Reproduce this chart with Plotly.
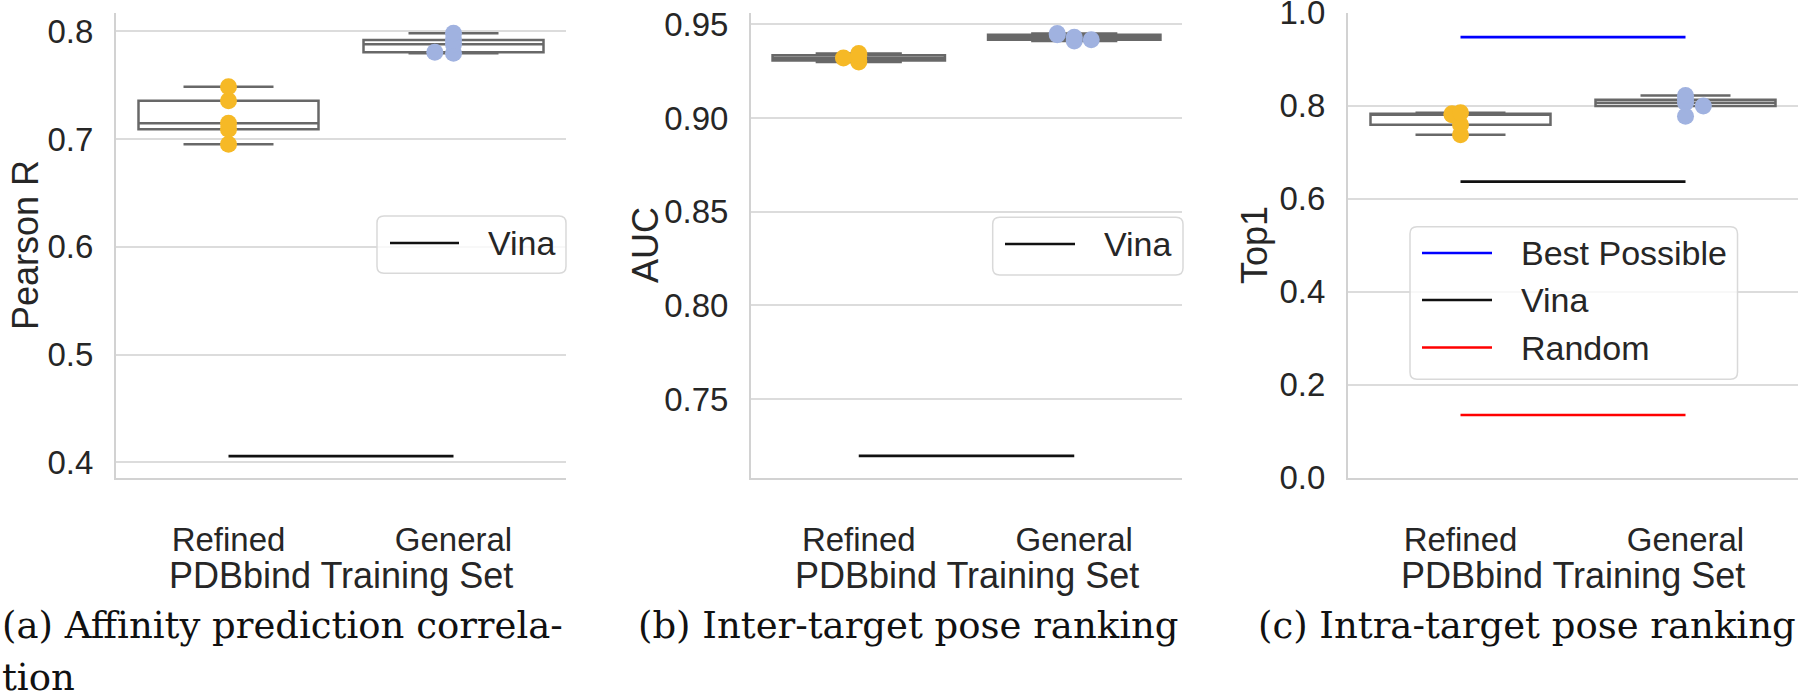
import numpy as np
import plotly.graph_objects as go

W, H = 1800, 693

CATEGORIES = ["Refined", "General"]

# (a) Affinity prediction correlation (Pearson R)
PEARSON_REFINED = [0.6953, 0.7092, 0.7148, 0.7357, 0.7487]
PEARSON_GENERAL = [0.7798, 0.7807, 0.7881, 0.7921, 0.7983]
PEARSON_VINA = 0.4058

# (b) Inter-target pose ranking (AUC)
AUC_REFINED = [0.9299, 0.9307, 0.9320, 0.9335, 0.9344]
AUC_GENERAL = [0.9411, 0.9418, 0.9431, 0.9444, 0.9451]
AUC_VINA = 0.7196

# (c) Intra-target pose ranking (Top1)
TOP1_REFINED = [0.7372, 0.7585, 0.7800, 0.7822, 0.7843]
TOP1_GENERAL = [0.7770, 0.7989, 0.8060, 0.8127, 0.8215]
TOP1_BEST = 0.947
TOP1_VINA = 0.6366
TOP1_RANDOM = 0.1348

# swarm dodge of each point (in marker diameters), same order as values
PEARSON_REFINED_SWARM = [0, 0, 0, 0, 0]
PEARSON_GENERAL_SWARM = [0, -1.1, 0, 0, 0]
AUC_REFINED_SWARM = [0, 0, -0.9, 0, 0]
AUC_GENERAL_SWARM = [0, 1.0, 0, -1.0, -1.0]
TOP1_REFINED_SWARM = [0, 0, -0.5, -0.5, 0]
TOP1_GENERAL_SWARM = [0, 1.05, 0, 0, 0]

CAPTIONS = ["(a) Affinity prediction correla-", "(b) Inter-target pose ranking",
            "(c) Intra-target pose ranking"]
CAPTION_CONT = "tion"
XLABEL = "PDBbind Training Set"

# ---------------- styles ----------------
SANS = "Liberation Sans, Arial, sans-serif"
SERIF = "DejaVu Serif, serif"
TXT = "#262626"
GRID = "#dcdcdc"
SPINE = "#d2d2d2"
BOX_EDGE = "#686868"
ORANGE = "#F6B926"
BLUE_PT = "#A0B2E0"
MARKER_D = 17
TICK_FS = 33
LABEL_FS = 36
LEG_FS = 34
CAP_FS = 37

Y_TOP, Y_BOT = 12.5, 477.7


def px(x):
    return x / W


def py(y):
    return 1 - y / H


panels = [
    dict(xd=(116, 566), yr=(0.3857, 0.8176), tv=[0.4, 0.5, 0.6, 0.7, 0.8], fmt=".1f",
         ylabel="Pearson R", ylab_x=25,
         groups=[(PEARSON_REFINED, PEARSON_REFINED_SWARM, ORANGE),
                 (PEARSON_GENERAL, PEARSON_GENERAL_SWARM, BLUE_PT)],
         refs=[("Vina", PEARSON_VINA, "#111111")],
         legend=dict(box=(377, 216, 566, 273.3), line=(390, 459), text_x=486, ys=[243])),
    dict(xd=(751, 1182), yr=(0.7080, 0.9563), tv=[0.75, 0.80, 0.85, 0.90, 0.95], fmt=".2f",
         ylabel="AUC", ylab_x=645,
         groups=[(AUC_REFINED, AUC_REFINED_SWARM, ORANGE),
                 (AUC_GENERAL, AUC_GENERAL_SWARM, BLUE_PT)],
         refs=[("Vina", AUC_VINA, "#111111")],
         legend=dict(box=(992.7, 217.3, 1183, 275), line=(1005, 1075), text_x=1102, ys=[244])),
    dict(xd=(1348, 1798), yr=(0.0, 1.0), tv=[0.0, 0.2, 0.4, 0.6, 0.8, 1.0], fmt=".1f",
         ylabel="Top1", ylab_x=1254,
         groups=[(TOP1_REFINED, TOP1_REFINED_SWARM, ORANGE),
                 (TOP1_GENERAL, TOP1_GENERAL_SWARM, BLUE_PT)],
         refs=[("Best Possible", TOP1_BEST, "#0000ff"), ("Vina", TOP1_VINA, "#111111"),
               ("Random", TOP1_RANDOM, "#ff0000")],
         legend=dict(box=(1410, 226.7, 1737.5, 379.3), line=(1422, 1492), text_x=1519,
                     ys=[253, 300, 347.5])),
]


def box_stats(vals):
    v = np.sort(np.asarray(vals, dtype=float))
    q1, med, q3 = np.percentile(v, [25, 50, 75])
    iqr = q3 - q1
    lo = v[v >= q1 - 1.5 * iqr].min()
    hi = v[v <= q3 + 1.5 * iqr].max()
    return q1, med, q3, lo, hi


def rounded_rect(x0, y0, x1, y1, r):
    pts = [("M", [(x0 + r, y0)]), ("L", [(x1 - r, y0)]), ("Q", [(x1, y0), (x1, y0 + r)]),
           ("L", [(x1, y1 - r)]), ("Q", [(x1, y1), (x1 - r, y1)]), ("L", [(x0 + r, y1)]),
           ("Q", [(x0, y1), (x0, y1 - r)]), ("L", [(x0, y0 + r)]), ("Q", [(x0, y0), (x0 + r, y0)])]
    s = ""
    for cmd, ps in pts:
        s += cmd + " ".join(f"{px(a):.5f},{py(b):.5f}" for a, b in ps) + " "
    return s + "Z"


fig = go.Figure()
shapes = []
annotations = []
layout = {}

for k, p in enumerate(panels):
    sfx = "" if k == 0 else str(k + 1)
    xa, ya = "x" + sfx, "y" + sfx
    x0, x1 = p["xd"]
    cat_px = (x1 - x0) / 2.0

    for i, (vals, swarm, col) in enumerate(p["groups"]):
        q1, med, q3, lo, hi = box_stats(vals)
        fig.add_trace(go.Box(
            x=[i], q1=[q1], median=[med], q3=[q3], lowerfence=[lo], upperfence=[hi],
            width=0.8, whiskerwidth=0.5, fillcolor="white",
            line=dict(color=BOX_EDGE, width=2.5), boxpoints=False,
            xaxis=xa, yaxis=ya, showlegend=False, hoverinfo="skip", name=CATEGORIES[i]))

    for name, val, col in p["refs"]:
        fig.add_trace(go.Scatter(x=[0, 1], y=[val, val], mode="lines",
                                 line=dict(color=col, width=2.7), name=name,
                                 xaxis=xa, yaxis=ya, showlegend=False))

    for i, (vals, swarm, col) in enumerate(p["groups"]):
        xs = [i + d * MARKER_D / cat_px for d in swarm]
        fig.add_trace(go.Scatter(x=xs, y=vals, mode="markers",
                                 marker=dict(size=MARKER_D, color=col, line=dict(width=0)),
                                 xaxis=xa, yaxis=ya, showlegend=False, name=CATEGORIES[i]))

    layout["xaxis" + sfx] = dict(
        domain=[px(x0), px(x1)], range=[-0.5, 1.5], tickvals=[0, 1], ticktext=CATEGORIES,
        showgrid=False, zeroline=False, showline=True, linecolor=SPINE, linewidth=2,
        ticks="", tickfont=dict(family=SANS, size=TICK_FS, color=TXT),
        ticklabelstandoff=32, anchor=ya, fixedrange=True, automargin=False,
        ticklabeloverflow="allow")
    layout["yaxis" + sfx] = dict(
        domain=[py(Y_BOT), py(Y_TOP)], range=list(p["yr"]), tickvals=p["tv"],
        tickformat=p["fmt"], showgrid=True, gridcolor=GRID, gridwidth=1.8,
        zeroline=False, showline=True, linecolor=SPINE, linewidth=2, ticks="",
        tickfont=dict(family=SANS, size=TICK_FS, color=TXT), ticklabelstandoff=14,
        anchor=xa, fixedrange=True, automargin=False, ticklabeloverflow="allow")

    # axis titles
    annotations.append(dict(text=p["ylabel"], x=px(p["ylab_x"]), y=py((Y_TOP + Y_BOT) / 2),
                            xref="paper", yref="paper", textangle=-90, showarrow=False,
                            xanchor="center", yanchor="middle",
                            font=dict(family=SANS, size=LABEL_FS, color=TXT)))
    annotations.append(dict(text=XLABEL, x=px((x0 + x1) / 2), y=py(575), xref="paper",
                            yref="paper", showarrow=False, xanchor="center", yanchor="middle",
                            font=dict(family=SANS, size=LABEL_FS, color=TXT)))

    # legend (matplotlib style, rounded frame)
    lg = p["legend"]
    bx0, by0, bx1, by1 = lg["box"]
    shapes.append(dict(type="path", path=rounded_rect(bx0, by0, bx1, by1, 7), xref="paper",
                       yref="paper", fillcolor="rgba(255,255,255,0.8)",
                       line=dict(color="#d9d9d9", width=1.5), layer="above"))
    for (name, val, col), ly in zip(p["refs"], lg["ys"]):
        shapes.append(dict(type="line", xref="paper", yref="paper", x0=px(lg["line"][0]),
                           x1=px(lg["line"][1]), y0=py(ly), y1=py(ly),
                           line=dict(color=col, width=2.7), layer="above"))
        annotations.append(dict(text=name, x=px(lg["text_x"]), y=py(ly), xref="paper",
                                yref="paper", showarrow=False, xanchor="left",
                                yanchor="middle",
                                font=dict(family=SANS, size=LEG_FS, color=TXT)))

# captions
cap_x = [0, 636, 1256]
for cx, txt in zip(cap_x, CAPTIONS):
    annotations.append(dict(text=txt, x=px(cx), y=py(625), xref="paper", yref="paper",
                            showarrow=False, xanchor="left", yanchor="middle",
                            font=dict(family=SERIF, size=CAP_FS, color="#111111")))
annotations.append(dict(text=CAPTION_CONT, x=px(0), y=py(677), xref="paper", yref="paper",
                        showarrow=False, xanchor="left", yanchor="middle",
                        font=dict(family=SERIF, size=CAP_FS, color="#111111")))

fig.update_layout(
    width=W, height=H, margin=dict(l=0, r=0, t=0, b=0, autoexpand=False),
    paper_bgcolor="white", plot_bgcolor="white", showlegend=False,
    shapes=shapes, annotations=annotations, boxmode="overlay", **layout)

fig.write_html("out.html", config={"displayModeBar": False},
               post_script="document.body.style.margin='0px';")
